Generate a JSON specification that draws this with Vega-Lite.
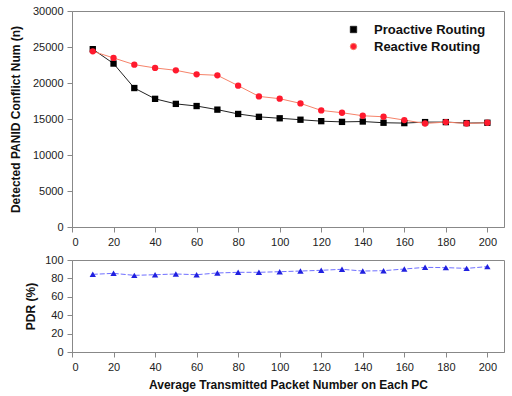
{
  "$schema": "https://vega.github.io/schema/vega-lite/v6.json",
  "background": "white",
  "padding": {"left": 8, "top": 4, "right": 2, "bottom": 2},
  "spacing": 5,
  "config": {
    "font": "Liberation Sans",
    "view": {"stroke": "#888888", "strokeWidth": 1},
    "axis": {
      "grid": false, "labelFont": "Liberation Sans", "labelFontSize": 11, "labelColor": "#222", "format": "d",
      "titleFont": "Liberation Sans", "titleFontSize": 12, "titleFontWeight": "bold", "titleColor": "#111",
      "domainColor": "#888", "tickColor": "#888", "tickSize": 5, "labelPadding": 4
    },
    "legend": {"title": null, "labelFont": "Liberation Sans", "labelFontSize": 13, "labelFontWeight": "bold", "labelColor": "#111", "symbolSize": 40, "rowPadding": 3, "symbolStrokeWidth": 1, "labelOffset": 14}
  },
  "datasets": {
    "conf": [
      {"x": 10, "v": 24700, "s": "Proactive Routing"},
      {"x": 20, "v": 22700, "s": "Proactive Routing"},
      {"x": 30, "v": 19300, "s": "Proactive Routing"},
      {"x": 40, "v": 17800, "s": "Proactive Routing"},
      {"x": 50, "v": 17100, "s": "Proactive Routing"},
      {"x": 60, "v": 16800, "s": "Proactive Routing"},
      {"x": 70, "v": 16300, "s": "Proactive Routing"},
      {"x": 80, "v": 15700, "s": "Proactive Routing"},
      {"x": 90, "v": 15300, "s": "Proactive Routing"},
      {"x": 100, "v": 15100, "s": "Proactive Routing"},
      {"x": 110, "v": 14900, "s": "Proactive Routing"},
      {"x": 120, "v": 14700, "s": "Proactive Routing"},
      {"x": 130, "v": 14600, "s": "Proactive Routing"},
      {"x": 140, "v": 14650, "s": "Proactive Routing"},
      {"x": 150, "v": 14480, "s": "Proactive Routing"},
      {"x": 160, "v": 14430, "s": "Proactive Routing"},
      {"x": 170, "v": 14570, "s": "Proactive Routing"},
      {"x": 180, "v": 14570, "s": "Proactive Routing"},
      {"x": 190, "v": 14430, "s": "Proactive Routing"},
      {"x": 200, "v": 14480, "s": "Proactive Routing"},
      {"x": 10, "v": 24400, "s": "Reactive Routing"},
      {"x": 20, "v": 23480, "s": "Reactive Routing"},
      {"x": 30, "v": 22550, "s": "Reactive Routing"},
      {"x": 40, "v": 22090, "s": "Reactive Routing"},
      {"x": 50, "v": 21760, "s": "Reactive Routing"},
      {"x": 60, "v": 21200, "s": "Reactive Routing"},
      {"x": 70, "v": 21070, "s": "Reactive Routing"},
      {"x": 80, "v": 19630, "s": "Reactive Routing"},
      {"x": 90, "v": 18140, "s": "Reactive Routing"},
      {"x": 100, "v": 17820, "s": "Reactive Routing"},
      {"x": 110, "v": 17170, "s": "Reactive Routing"},
      {"x": 120, "v": 16190, "s": "Reactive Routing"},
      {"x": 130, "v": 15870, "s": "Reactive Routing"},
      {"x": 140, "v": 15450, "s": "Reactive Routing"},
      {"x": 150, "v": 15310, "s": "Reactive Routing"},
      {"x": 160, "v": 14850, "s": "Reactive Routing"},
      {"x": 170, "v": 14380, "s": "Reactive Routing"},
      {"x": 180, "v": 14570, "s": "Reactive Routing"},
      {"x": 190, "v": 14380, "s": "Reactive Routing"},
      {"x": 200, "v": 14480, "s": "Reactive Routing"}
    ],
    "pdr": [
      {"x": 10, "p": 84.4}, {"x": 20, "p": 85.5}, {"x": 30, "p": 83.3}, {"x": 40, "p": 84.0},
      {"x": 50, "p": 84.8}, {"x": 60, "p": 84.0}, {"x": 70, "p": 85.9}, {"x": 80, "p": 86.6},
      {"x": 90, "p": 86.6}, {"x": 100, "p": 87.3}, {"x": 110, "p": 88.0}, {"x": 120, "p": 88.8},
      {"x": 130, "p": 89.9}, {"x": 140, "p": 88.0}, {"x": 150, "p": 88.4}, {"x": 160, "p": 90.2},
      {"x": 170, "p": 92.0}, {"x": 180, "p": 91.7}, {"x": 190, "p": 90.9}, {"x": 200, "p": 92.8}
    ]
  },
  "vconcat": [
    {
      "width": 432, "height": 216,
      "data": {"name": "conf"},
      "encoding": {
        "x": {"field": "x", "type": "quantitative", "scale": {"domain": [0, 208], "nice": false},
              "axis": {"values": [0,20,40,60,80,100,120,140,160,180,200], "title": null}},
        "y": {"field": "v", "type": "quantitative", "scale": {"domain": [0, 30000], "nice": false},
              "axis": {"values": [0,5000,10000,15000,20000,25000,30000], "title": "Detected PANID Conflict Num (n)", "titlePadding": 10}}
      },
      "layer": [
        {
          "mark": {"type": "line", "strokeWidth": 1},
          "encoding": {
            "stroke": {"field": "s", "type": "nominal", "scale": {"domain": ["Proactive Routing", "Reactive Routing"], "range": ["#222222", "#f6836a"]},
              "legend": {"orient": "none", "legendX": 275, "legendY": 12}}
          }
        },
        {
          "mark": {"type": "point", "filled": true, "opacity": 1, "size": 40},
          "encoding": {
            "fill": {"field": "s", "type": "nominal", "scale": {"domain": ["Proactive Routing", "Reactive Routing"], "range": ["#000000", "#ff1a2e"]},
              "legend": {"orient": "none", "legendX": 275, "legendY": 12}},
            "shape": {"field": "s", "type": "nominal", "scale": {"domain": ["Proactive Routing", "Reactive Routing"], "range": ["square", "circle"]},
              "legend": {"orient": "none", "legendX": 275, "legendY": 12}}
          }
        }
      ]
    },
    {
      "width": 432, "height": 92,
      "data": {"name": "pdr"},
      "encoding": {
        "x": {"field": "x", "type": "quantitative", "scale": {"domain": [0, 208], "nice": false},
              "axis": {"values": [0,20,40,60,80,100,120,140,160,180,200], "title": "Average Transmitted Packet Number on Each PC", "titlePadding": 7}},
        "y": {"field": "p", "type": "quantitative", "scale": {"domain": [0, 100], "nice": false},
              "axis": {"values": [0,20,40,60,80,100], "title": "PDR (%)", "titlePadding": 7}}
      },
      "layer": [
        {"mark": {"type": "line", "color": "#4a4aff", "strokeWidth": 0.8, "strokeDash": [5, 2]}},
        {"mark": {"type": "point", "shape": "triangle-up", "filled": true, "color": "#2020e0", "opacity": 1, "size": 40}}
      ]
    }
  ]
}
